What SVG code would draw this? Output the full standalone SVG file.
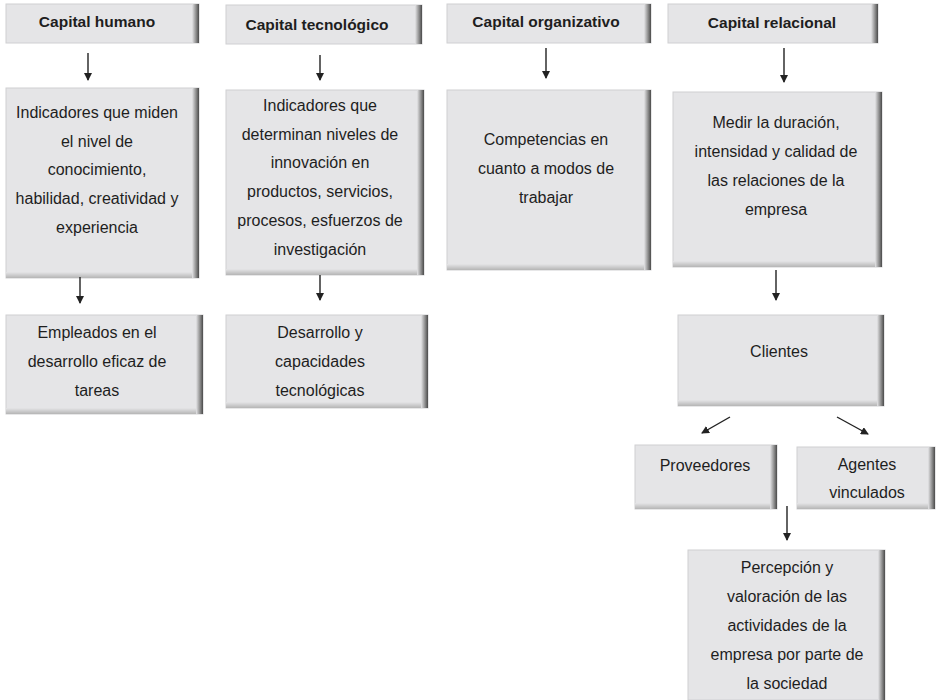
<svg xmlns="http://www.w3.org/2000/svg" width="947" height="700" viewBox="0 0 947 700">
<style>
.box{fill:#e5e5e7;stroke:#cfcfd2;stroke-width:1}
.hd{font-family:"Liberation Sans",Arial,sans-serif;font-size:15.5px;font-weight:bold;fill:#1e1e1e;text-anchor:middle}
.tx{font-family:"Liberation Sans",Arial,sans-serif;font-size:16px;fill:#1e1e1e;text-anchor:middle}
.con line{stroke:#222;stroke-width:1.4;fill:none}
</style>
<defs>
<linearGradient id="sh" x1="0" y1="0" x2="1" y2="0">
<stop offset="0" stop-color="#e5e5e7"/>
<stop offset="0.6" stop-color="#8a8a8a"/>
<stop offset="1" stop-color="#4a4a4a"/>
</linearGradient>
<linearGradient id="shb" x1="0" y1="0" x2="0" y2="1">
<stop offset="0" stop-color="#e5e5e7"/>
<stop offset="1" stop-color="#b5b5b5"/>
</linearGradient>
<marker id="ah" markerWidth="8" markerHeight="8" refX="7" refY="4" orient="auto" markerUnits="userSpaceOnUse">
<path d="M0,0 L8,4 L0,8 Z" fill="#222"/>
</marker>
</defs>

<g id="n-humano">
<rect class="box" x="6" y="4" width="193" height="39"/>
<rect x="192" y="4" width="7" height="39" fill="url(#sh)"/>
<text class="hd" x="97" y="27">Capital humano</text>
</g>
<g id="n-tecno">
<rect class="box" x="226" y="5" width="196" height="39"/>
<rect x="415" y="5" width="7" height="39" fill="url(#sh)"/>
<text class="hd" x="317" y="30">Capital tecnológico</text>
</g>
<g id="n-organ">
<rect class="box" x="447" y="4" width="204" height="39"/>
<rect x="644" y="4" width="7" height="39" fill="url(#sh)"/>
<text class="hd" x="546" y="27">Capital organizativo</text>
</g>
<g id="n-relac">
<rect class="box" x="668" y="4" width="210" height="39"/>
<rect x="871" y="4" width="7" height="39" fill="url(#sh)"/>
<text class="hd" x="772" y="28">Capital relacional</text>
</g>

<g id="n-humano-ind">
<rect class="box" x="6" y="88" width="193" height="190"/>
<rect x="6" y="272" width="193" height="6" fill="url(#shb)"/>
<rect x="192" y="88" width="7" height="190" fill="url(#sh)"/>
<text class="tx" x="97" y="118">Indicadores que miden</text>
<text class="tx" x="97" y="147">el nivel de</text>
<text class="tx" x="97" y="175">conocimiento,</text>
<text class="tx" x="97" y="204">habilidad, creatividad y</text>
<text class="tx" x="97" y="233">experiencia</text>
</g>
<g id="n-tecno-ind">
<rect class="box" x="226" y="90" width="198" height="185"/>
<rect x="226" y="269" width="198" height="6" fill="url(#shb)"/>
<rect x="417" y="90" width="7" height="185" fill="url(#sh)"/>
<text class="tx" x="320" y="111">Indicadores que</text>
<text class="tx" x="320" y="140">determinan niveles de</text>
<text class="tx" x="320" y="168">innovación en</text>
<text class="tx" x="320" y="197">productos, servicios,</text>
<text class="tx" x="320" y="226">procesos, esfuerzos de</text>
<text class="tx" x="320" y="255">investigación</text>
</g>
<g id="n-organ-ind">
<rect class="box" x="447" y="90" width="204" height="180"/>
<rect x="447" y="264" width="204" height="6" fill="url(#shb)"/>
<rect x="644" y="90" width="7" height="180" fill="url(#sh)"/>
<text class="tx" x="546" y="145">Competencias en</text>
<text class="tx" x="546" y="174">cuanto a modos de</text>
<text class="tx" x="546" y="203">trabajar</text>
</g>
<g id="n-relac-ind">
<rect class="box" x="673" y="92" width="209" height="175"/>
<rect x="673" y="261" width="209" height="6" fill="url(#shb)"/>
<rect x="875" y="92" width="7" height="175" fill="url(#sh)"/>
<text class="tx" x="776" y="128">Medir la duración,</text>
<text class="tx" x="776" y="157">intensidad y calidad de</text>
<text class="tx" x="776" y="186">las relaciones de la</text>
<text class="tx" x="776" y="215">empresa</text>
</g>

<g id="n-empleados">
<rect class="box" x="6" y="315" width="197" height="99"/>
<rect x="6" y="408" width="197" height="6" fill="url(#shb)"/>
<rect x="196" y="315" width="7" height="99" fill="url(#sh)"/>
<text class="tx" x="97" y="338">Empleados en el</text>
<text class="tx" x="97" y="367">desarrollo eficaz de</text>
<text class="tx" x="97" y="396">tareas</text>
</g>
<g id="n-desarrollo">
<rect class="box" x="226" y="315" width="202" height="93"/>
<rect x="226" y="402" width="202" height="6" fill="url(#shb)"/>
<rect x="421" y="315" width="7" height="93" fill="url(#sh)"/>
<text class="tx" x="320" y="338">Desarrollo y</text>
<text class="tx" x="320" y="367">capacidades</text>
<text class="tx" x="320" y="396">tecnológicas</text>
</g>
<g id="n-clientes">
<rect class="box" x="678" y="315" width="206" height="91"/>
<rect x="678" y="400" width="206" height="6" fill="url(#shb)"/>
<rect x="877" y="315" width="7" height="91" fill="url(#sh)"/>
<text class="tx" x="779" y="357">Clientes</text>
</g>
<g id="n-proveedores">
<rect class="box" x="635" y="445" width="142" height="64"/>
<rect x="635" y="503" width="142" height="6" fill="url(#shb)"/>
<rect x="770" y="445" width="7" height="64" fill="url(#sh)"/>
<text class="tx" x="705" y="471">Proveedores</text>
</g>
<g id="n-agentes">
<rect class="box" x="797" y="447" width="138" height="62"/>
<rect x="797" y="503" width="138" height="6" fill="url(#shb)"/>
<rect x="928" y="447" width="7" height="62" fill="url(#sh)"/>
<text class="tx" x="867" y="470">Agentes</text>
<text class="tx" x="867" y="498">vinculados</text>
</g>
<g id="n-percepcion">
<rect class="box" x="688" y="550" width="197" height="150"/>
<rect x="878" y="550" width="7" height="150" fill="url(#sh)"/>
<text class="tx" x="787" y="573">Percepción y</text>
<text class="tx" x="787" y="602">valoración de las</text>
<text class="tx" x="787" y="631">actividades de la</text>
<text class="tx" x="787" y="660">empresa por parte de</text>
<text class="tx" x="787" y="689">la sociedad</text>
</g>

<g id="connectors" class="con">
<line x1="88" y1="53" x2="88" y2="80" marker-end="url(#ah)"/>
<line x1="320" y1="55" x2="320" y2="80" marker-end="url(#ah)"/>
<line x1="546" y1="48" x2="546" y2="78" marker-end="url(#ah)"/>
<line x1="784" y1="48" x2="784" y2="82" marker-end="url(#ah)"/>
<line x1="80" y1="277" x2="80" y2="303" marker-end="url(#ah)"/>
<line x1="320" y1="275" x2="320" y2="300" marker-end="url(#ah)"/>
<line x1="776" y1="270" x2="776" y2="300" marker-end="url(#ah)"/>
<line x1="730" y1="417" x2="702" y2="433" marker-end="url(#ah)"/>
<line x1="837" y1="417" x2="868" y2="434" marker-end="url(#ah)"/>
<line x1="787" y1="506" x2="787" y2="540" marker-end="url(#ah)"/>
</g>
</svg>
